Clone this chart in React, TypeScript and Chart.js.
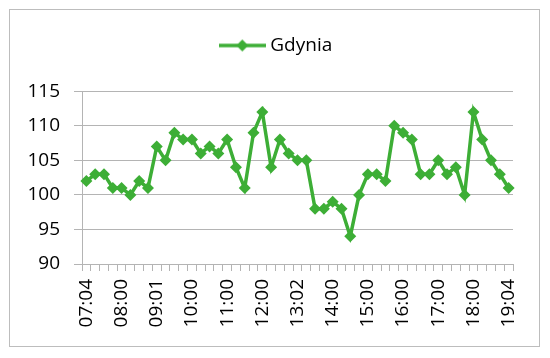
import React, { useEffect, useRef } from "react";
import { Chart, registerables } from "chart.js";

Chart.register(...registerables);

const seriesName = "Gdynia";

const tickLabels = [
  "07:04", "08:00", "09:01", "10:00", "11:00", "12:00", "13:02",
  "14:00", "15:00", "16:00", "17:00", "18:00", "19:04",
];

const values = [
  102, 103, 103, 101, 101, 100, 102, 101, 107, 105, 109, 108, 108,
  106, 107, 106, 108, 104, 101, 109, 112, 104, 108, 106, 105, 105,
  98, 98, 99, 98, 94, 100, 103, 103, 102, 110, 109, 108, 103, 103,
  105, 103, 104, 100, 112, 108, 105, 103, 101,
];

const yMin = 90;
const yMax = 115;
const yStep = 5;

const GREEN = "#3DAE36";
const GRID = "#b4b4b4";
const FONT = "'Open Sans', 'Liberation Sans', sans-serif";

export default function App() {
  const ref = useRef<HTMLCanvasElement | null>(null);

  useEffect(() => {
    if (!ref.current) return;
    const categories = values.map((_, i) => (i % 4 === 0 ? tickLabels[i / 4] : ""));

    const legendImg = document.createElement("canvas");
    legendImg.width = 47;
    legendImg.height = 14;
    const lc = legendImg.getContext("2d")!;
    lc.strokeStyle = GREEN;
    lc.lineWidth = 3.5;
    lc.beginPath();
    lc.moveTo(0, 7);
    lc.lineTo(47, 7);
    lc.stroke();
    lc.fillStyle = GREEN;
    lc.beginPath();
    lc.moveTo(23.5, 1);
    lc.lineTo(29.5, 7);
    lc.lineTo(23.5, 13);
    lc.lineTo(17.5, 7);
    lc.closePath();
    lc.fill();

    const chart = new Chart(ref.current, {
      type: "line",
      data: {
        labels: categories,
        datasets: [
          {
            label: seriesName,
            data: values,
            borderColor: GREEN,
            backgroundColor: GREEN,
            borderWidth: 3.5,
            pointStyle: "rectRot",
            pointRadius: 6,
            pointBorderWidth: 0,
            pointBackgroundColor: GREEN,
            tension: 0,
          },
        ],
      },
      options: {
        animation: false,
        responsive: false,
        maintainAspectRatio: false,
        layout: { padding: { left: 13, right: 7, top: 26, bottom: 0 } },
        plugins: {
          tooltip: { enabled: false },
          title: {
            display: true,
            text: "",
            position: "top",
            weight: 500,
            font: { size: 1 },
            padding: { top: 0, bottom: 25 },
          },
          legend: {
            display: true,
            position: "top",
            weight: 1000,
            labels: {
              usePointStyle: true,
              pointStyle: legendImg as any,
              pointStyleWidth: 37,
              padding: 10,
              color: "#000",
              font: { family: FONT, size: 19 },
            },
          },
        },
        scales: {
          x: {
            type: "category",
            offset: true,
            afterFit: (s: any) => {
              s.height = 94;
            },
            grid: {
              offset: true,
              drawOnChartArea: false,
              drawTicks: true,
              tickLength: 7,
              color: GRID,
            },
            border: { display: true, color: GRID, width: 1 },
            ticks: {
              autoSkip: false,
              maxRotation: 90,
              minRotation: 90,
              padding: 8,
              color: "#000",
              font: { family: FONT, size: 19 },
            },
          },
          y: {
            min: yMin,
            max: yMax,
            afterFit: (s: any) => {
              s.width = 69;
            },
            grid: {
              color: GRID,
              drawTicks: true,
              tickLength: 8,
            },
            border: { display: true, color: GRID, width: 1 },
            ticks: {
              stepSize: yStep,
              padding: 14,
              color: "#000",
              font: { family: FONT, size: 19 },
            },
          },
          yRight: {
            position: "right",
            min: yMin,
            max: yMax,
            afterFit: (s: any) => {
              s.width = 30;
            },
            grid: { display: false, drawOnChartArea: false, drawTicks: false },
            border: { display: false },
            ticks: { display: false },
          },
        },
      },
    });
    return () => chart.destroy();
  }, []);

  return (
    <div style={{ position: "fixed", left: 0, top: 0, width: 550, height: 358, background: "#fff" }}>
      <div
        style={{
          position: "absolute",
          left: 9,
          top: 9,
          width: 531,
          height: 338,
          boxSizing: "border-box",
          border: "1px solid #bdbdbd",
        }}
      />
      <canvas ref={ref} width={550} height={358} style={{ position: "absolute", left: 0, top: 0 }} />
    </div>
  );
}
